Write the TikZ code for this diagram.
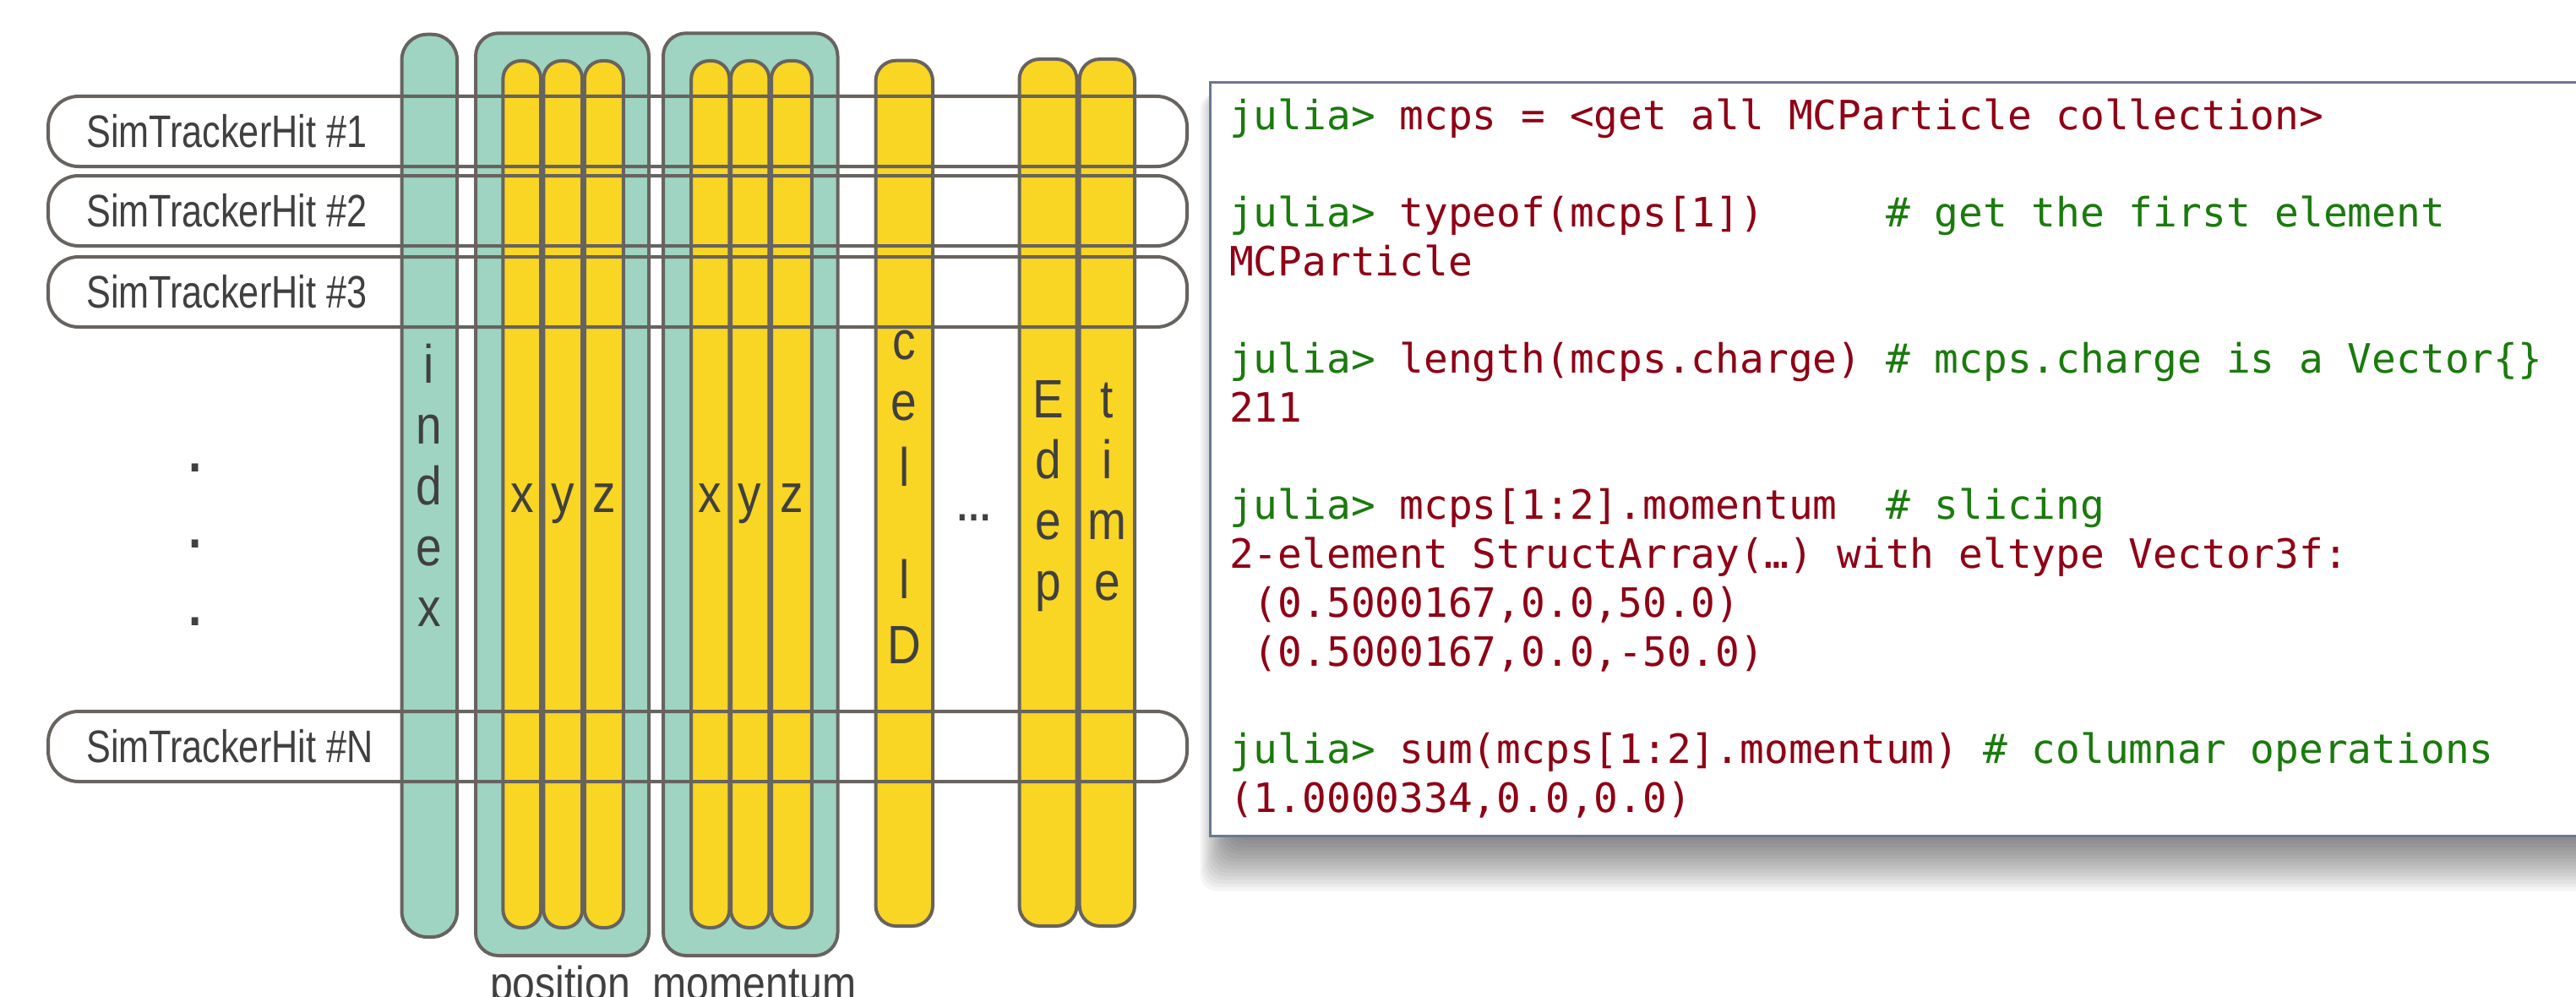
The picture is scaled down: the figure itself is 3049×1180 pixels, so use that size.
\documentclass[tikz,border=0pt]{standalone}
\usepackage{fontspec}
\setmainfont{Liberation Sans}
\newfontfamily\rowfont[FakeStretch=0.8]{Liberation Sans}
\newfontfamily\letfont[FakeStretch=0.86]{Liberation Sans}
\newfontfamily\codefont{DejaVu Sans Mono}
\definecolor{linegray}{HTML}{67635F}
\definecolor{tealfill}{HTML}{9ED4C1}
\definecolor{yellowfill}{HTML}{F9D524}
\definecolor{labelgray}{HTML}{404040}
\definecolor{codegreen}{HTML}{1B7A0E}
\definecolor{codered}{HTML}{8E0016}
\definecolor{boxborder}{HTML}{6B7890}
\newcommand\jg[1]{\textcolor{codegreen}{#1}}
\newcommand\jr[1]{\textcolor{codered}{#1}}
\begin{document}
\begin{tikzpicture}[x=1pt,y=-1pt,
  outline/.style={draw=linegray, line width=4pt},
  tealcol/.style={outline, fill=tealfill},
  yellowcol/.style={outline, fill=yellowfill},
  rowbox/.style={outline, rounded corners=36pt},
  rowlabel/.style={anchor=base west, inner sep=0pt, text=labelgray,
    font=\rowfont\fontsize{54}{60}\selectfont},
  colletter/.style={anchor=base, inner sep=0pt, text=labelgray,
    font=\letfont\fontsize{64}{70}\selectfont},
  grouplabel/.style={anchor=base, inner sep=0pt, text=labelgray,
    font=\letfont\fontsize{56}{60}\selectfont},
  codeline/.style={anchor=base west, inner sep=0pt,
    font=\codefont\fontsize{47.8}{57.7}\selectfont}]
\useasboundingbox (0,0) rectangle (3049,1180);

% ---- columns ----
\draw[tealcol, rounded corners=30pt] (475.6,40.7) rectangle (541,1109);
\draw[tealcol, rounded corners=27pt] (563,39.3) rectangle (768,1131);
\draw[tealcol, rounded corners=27pt] (785,39.3) rectangle (991.5,1131);
\foreach \xa/\xb in {595.4/640.2, 643.3/689.2, 691.9/737.8,
                     818.2/863.3, 865/910.4, 913/960.9}
  \draw[yellowcol, rounded corners=21pt] (\xa,72) rectangle (\xb,1098);
\draw[yellowcol, rounded corners=24pt] (1036.5,71.7) rectangle (1104,1096);
\draw[yellowcol, rounded corners=24pt] (1206.5,70) rectangle (1274.5,1096);
\draw[yellowcol, rounded corners=24pt] (1277.7,70) rectangle (1343,1096);

% ---- column letters ----
\foreach \ch [count=\i] in {i,n,d,e,x}
  \node[colletter] (idx\i) at (508,{453+72.2*(\i-1)}) {\ch};
\node[colletter] (px) at (617.8,606) {x};
\node[colletter] (py) at (666.2,606) {y};
\node[colletter] (pz) at (714.8,606) {z};
\node[colletter] (mx) at (840.7,606) {x};
\node[colletter] (my) at (887.7,606) {y};
\node[colletter] (mz) at (937,606) {z};
\node[colletter] (cid1) at (1070.2,425) {c};
\node[colletter] (cid2) at (1070.2,497) {e};
\node[colletter] (cid3) at (1070.2,575) {l};
\node[colletter] (cid4) at (1070.2,708) {l};
\node[colletter] (cid5) at (1070.2,785) {D};
\foreach \ch [count=\i] in {E,d,e,p}
  \node[colletter] (edep\i) at (1240.5,{494+72*(\i-1)}) {\ch};
\foreach \ch [count=\i] in {t,i,m,e}
  \node[colletter] (time\i) at (1310.3,{494+72*(\i-1)}) {\ch};
\node[colletter, font=\letfont\bfseries\fontsize{50}{54}\selectfont] (more) at (1153,616) {…};

% ---- rows ----
\draw[rowbox] (57,114) rectangle (1405,197);
\draw[rowbox] (57,208) rectangle (1405,291);
\draw[rowbox] (57,304) rectangle (1405,387);
\draw[rowbox] (57,842) rectangle (1405,925);
\node[rowlabel] (hit1) at (102,174) {SimTrackerHit \#1};
\node[rowlabel] (hit2) at (102,268) {SimTrackerHit \#2};
\node[rowlabel] (hit3) at (102,364) {SimTrackerHit \#3};
\node[rowlabel] (hitN) at (102,902) {SimTrackerHit \#N};
\foreach \yy [count=\i] in {558,648,740}
  \node[colletter, font=\letfont\bfseries\fontsize{64}{70}\selectfont] (vdot\i) at (231,\yy) {.};

% ---- group labels ----
\node[grouplabel] (poslbl) at (663,1183) {position};
\node[grouplabel] (momlbl) at (893,1183) {momentum};

% ---- code panel with a soft shadow below ----
\foreach \k in {0,...,15}
  \fill[black, opacity=0.04, rounded corners=20pt]
    ({1458-2.5*\k},110) rectangle (3140,{990+4.3*\k});
\draw[boxborder, line width=3pt, fill=white] (1432,97.5) rectangle (3120,989);
\node[codeline] (c0) at (1455,153.3) {\jg{julia>} \jr{mcps = <get all MCParticle collection>}};
\node[codeline] (c2) at (1455,268.7) {\jg{julia>} \jr{typeof(mcps[1])}~~~~~\jg{\# get the first element}};
\node[codeline] (c3) at (1455,326.4) {\jr{MCParticle}};
\node[codeline] (c5) at (1455,441.8) {\jg{julia>} \jr{length(mcps.charge)} \jg{\# mcps.charge is a Vector\{\}}};
\node[codeline] (c6) at (1455,499.5) {\jr{211}};
\node[codeline] (c8) at (1455,614.9) {\jg{julia>} \jr{mcps[1:2].momentum}~~\jg{\# slicing}};
\node[codeline] (c9) at (1455,672.6) {\jr{2-element StructArray(…) with eltype Vector3f:}};
\node[codeline] (c10) at (1455,730.3) {~\jr{(0.5000167,0.0,50.0)}};
\node[codeline] (c11) at (1455,788) {~\jr{(0.5000167,0.0,-50.0)}};
\node[codeline] (c13) at (1455,903.4) {\jg{julia>} \jr{sum(mcps[1:2].momentum)} \jg{\# columnar operations}};
\node[codeline] (c14) at (1455,961.1) {\jr{(1.0000334,0.0,0.0)}};
\end{tikzpicture}
\end{document}
